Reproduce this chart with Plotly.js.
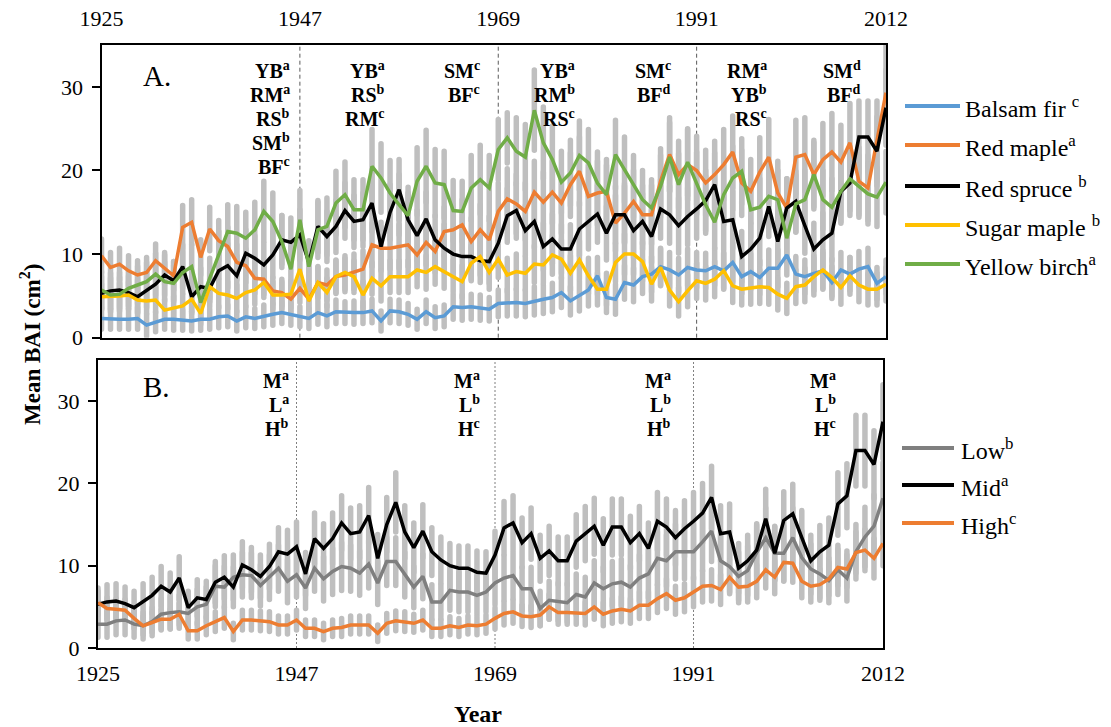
<!DOCTYPE html>
<html><head><meta charset="utf-8">
<script src="https://cdn.plot.ly/plotly-3.0.1.min.js"></script>
<style>html,body{margin:0;padding:0;background:#fff}#chart{width:1111px;height:727px}</style>
</head><body><div id="chart"></div>
<script>
// ---------------- DATA ----------------
const firstYear = 1925;
const tickYears = [1925, 1947, 1969, 1991, 2012];
const periodBreaks = [1947, 1969, 1991];

const speciesNames = ['Balsam fir', 'Red maple', 'Red spruce', 'Sugar maple', 'Yellow birch'];
const speciesSup = ['c', 'a', 'b', 'b', 'a'];
const elevNames = ['Low', 'Mid', 'High'];
const elevSup = ['b', 'a', 'c'];

const balsamFir = [2.3,2.2,2.2,2.2,2.3,1.5,1.9,2.2,2.2,2.1, 2.0,2.2,2.2,2.5,2.6,2.0,2.5,2.3,2.6,2.8, 3.0,2.8,2.5,2.3,3.0,2.6,3.1,3.0,3.0,3.0, 3.2,2.0,3.2,3.1,2.8,2.2,3.1,2.4,2.6,3.7, 3.6,3.7,3.6,3.4,4.1,4.2,4.2,4.1,4.4,4.6, 4.8,5.4,4.4,5.0,5.7,7.4,4.8,4.6,6.6,6.3, 7.3,7.6,8.5,8.1,7.5,8.4,8.1,8.0,8.5,8.0, 9.0,7.3,7.9,7.2,8.3,8.3,9.9,7.6,7.3,7.7, 8.0,6.6,8.1,7.6,8.2,8.5,6.5,7.3];
const redMaple = [9.8,8.4,8.8,8.0,7.5,7.8,9.2,8.3,7.4,13.2, 13.8,9.6,13.0,11.6,10.9,9.0,8.6,7.1,7.0,5.6, 5.4,4.6,5.9,4.6,6.6,6.3,7.3,7.5,7.9,8.2, 11.1,10.7,10.7,10.9,11.1,9.9,11.4,10.3,12.7,12.9, 13.5,11.5,12.9,11.7,15.1,16.6,16.0,15.1,17.4,16.2, 17.4,16.1,18.3,19.9,16.9,17.3,17.5,13.7,14.9,16.3, 14.7,14.7,18.7,21.9,19.5,20.7,20.0,18.5,19.5,20.7, 22.2,18.5,17.5,19.8,21.6,17.3,15.5,21.6,21.9,19.5, 21.3,22.2,21.0,23.3,18.7,17.9,23.5,29.3];
const redSpruce = [5.3,5.6,5.7,5.4,4.9,5.7,6.4,7.5,6.8,8.5, 4.9,6.1,5.9,8.0,8.6,7.4,10.1,9.5,8.7,9.9, 11.7,11.4,12.3,9.0,13.3,12.1,13.3,15.2,13.9,14.1, 16.1,10.9,15.0,17.7,14.1,12.2,14.2,11.7,10.7,10.0, 9.7,9.7,9.2,9.1,11.3,14.6,15.2,12.8,13.9,10.9, 11.8,10.6,10.6,13.0,13.9,14.8,12.5,14.7,14.7,12.8, 13.9,12.1,15.4,14.7,13.4,14.5,15.4,16.4,18.3,13.9, 14.1,9.7,10.6,11.9,15.7,11.5,15.5,16.3,13.4,10.6, 11.7,12.5,17.5,18.5,24.0,24.0,22.3,27.5];
const sugarMaple = [4.9,4.9,5.0,5.1,4.5,4.4,4.5,3.3,3.6,3.8, 4.6,2.9,6.1,5.3,5.1,4.7,5.4,5.7,6.6,5.1, 5.1,5.2,8.2,4.4,6.6,5.4,7.3,7.8,7.3,5.1, 7.1,6.2,7.3,7.3,7.3,8.1,7.8,8.5,7.9,7.4, 6.7,8.9,9.7,7.8,9.4,7.5,7.9,7.7,8.8,8.7, 9.9,9.4,7.7,9.3,7.4,5.8,5.8,9.0,10.0,10.0, 9.1,6.4,8.4,5.7,4.3,5.6,6.8,6.5,7.0,8.0, 6.2,5.8,6.0,6.1,6.0,5.2,4.7,6.1,6.3,7.3, 8.1,7.2,6.0,7.4,6.3,5.8,5.8,6.4];
const yellowBirch = [5.7,5.1,5.2,5.9,6.3,6.7,7.6,6.7,6.5,7.8, 8.5,4.2,7.1,9.9,12.7,12.5,11.9,12.9,15.1,13.9, 11.5,8.2,14.1,8.5,12.9,13.3,16.1,17.1,15.3,15.3, 20.5,19.1,17.3,15.9,14.6,18.7,20.5,18.5,18.3,15.2, 15.1,17.9,18.9,17.9,22.5,23.9,22.3,21.6,27.2,23.3, 21.3,18.6,19.7,21.8,20.9,18.5,17.1,21.9,20.1,18.1, 16.5,15.5,18.1,21.6,18.3,21.0,18.5,15.9,13.8,17.1, 19.1,19.9,15.3,15.6,16.9,16.5,11.9,16.0,16.5,19.5, 16.5,15.6,17.5,19.0,18.1,17.2,16.8,18.6];

const lowElev = [2.9,2.9,3.3,3.4,2.9,2.7,3.2,4.1,4.3,4.4, 4.2,5.0,5.3,7.5,7.4,8.6,8.9,8.8,7.6,8.6, 9.7,8.1,8.9,7.3,9.7,8.4,9.3,9.9,9.7,9.1, 10.2,7.9,10.5,10.5,8.9,7.4,8.7,5.6,5.6,7.0, 6.8,6.8,6.4,6.8,7.9,8.5,8.8,7.2,7.2,4.8, 5.8,5.6,5.5,6.5,6.2,7.9,7.2,7.8,8.0,7.4, 8.5,9.0,10.9,10.6,11.7,11.7,11.7,12.9,14.2,10.6, 9.9,8.7,9.4,11.6,13.4,11.5,11.5,13.4,11.0,9.6, 9.0,8.2,9.5,8.5,11.7,13.5,14.8,18.2];
const midElev = [5.3,5.6,5.7,5.4,4.9,5.7,6.4,7.5,6.8,8.5, 4.9,6.1,5.9,8.0,8.6,7.4,10.1,9.5,8.7,9.9, 11.7,11.4,12.3,9.0,13.3,12.1,13.3,15.2,13.9,14.1, 16.1,10.9,15.0,17.7,14.1,12.2,14.2,11.7,10.7,10.0, 9.7,9.7,9.2,9.1,11.3,14.6,15.2,12.8,13.9,10.9, 11.8,10.6,10.6,13.0,13.9,14.8,12.5,14.7,14.7,12.8, 13.9,12.1,15.4,14.7,13.4,14.5,15.4,16.4,18.3,13.9, 14.1,9.7,10.6,11.9,15.7,11.5,15.5,16.3,13.4,10.6, 11.7,12.5,17.5,18.5,24.0,24.0,22.3,27.5];
const highElev = [5.5,4.8,4.7,4.6,3.6,2.7,3.1,3.5,3.5,4.1, 2.1,2.1,2.7,3.2,3.7,2.0,3.4,3.4,3.3,3.2, 2.8,2.8,3.4,2.4,2.4,2.0,2.4,2.5,2.8,2.8, 2.8,1.8,3.0,3.3,3.2,3.0,3.4,2.4,2.4,2.7, 2.5,2.8,2.7,2.9,3.6,4.2,4.4,3.9,3.8,4.0, 5.0,4.3,4.3,4.3,4.2,5.0,4.1,4.5,4.7,4.5, 5.2,5.2,6.0,6.6,5.8,6.1,6.8,7.5,7.6,7.1, 8.6,7.4,7.5,8.1,9.5,8.6,10.4,10.3,8.1,7.5, 7.7,8.4,9.8,9.6,11.6,11.9,10.9,12.7];

// error-bar half widths (estimated)
const errBF = [1.3,1.2,1.2,1.2,1.3,1.3,1.2,1.2,1.3,1.2, 1.2,1.3,1.2,1.3,1.3,1.2,1.3,1.2,1.3,1.3, 1.3,1.3,1.2,1.2,1.4,1.3,1.4,1.3,1.4,1.3, 1.4,1.2,1.4,1.4,1.3,1.2,1.4,1.3,1.3,1.5, 1.5,1.5,1.5,1.4,1.6,1.6,1.6,1.6,1.7,1.7, 1.7,1.8,1.7,1.8,1.9,2.2,1.8,1.8,2.0,2.0, 2.0,2.1,2.2,2.1,2.0,2.2,2.1,2.1,2.2,2.1, 2.3,2.0,2.1,2.0,2.2,2.2,2.4,2.1,2.0,2.1, 2.1,1.9,2.1,2.0,2.1,2.2,1.9,2.0];
const errRM = [2.0,1.8,1.9,1.8,1.7,1.8,2.0,1.9,1.7,2.6, 2.7,2.1,2.6,2.4,2.3,2.1,2.0,1.8,1.8,1.6, 1.6,1.5,1.7,1.5,1.9,1.8,2.0,2.0,2.1,2.2, 2.6,2.5,2.5,2.6,2.6,2.4,2.7,2.5,2.9,3.0, 3.0,2.8,3.0,2.8,3.4,3.6,3.5,3.4,3.7,3.6, 3.7,3.6,3.8,4.1,3.7,3.8,3.8,3.3,3.5,3.7, 3.5,3.5,3.9,4.4,4.0,4.2,4.1,3.9,4.0,4.2, 4.3,3.9,3.8,4.1,4.5,3.8,3.5,4.4,4.4,4.1, 4.3,4.6,4.4,4.7,4.0,3.9,4.8,6.0];
const errRS = [2.0,2.1,2.1,2.0,2.0,2.1,2.2,2.4,2.3,2.6, 2.0,2.2,2.2,2.5,2.6,2.4,2.8,2.7,2.6,2.7, 2.9,2.9,3.0,2.6,3.1,3.0,3.1,3.3,3.1,3.2, 3.4,2.9,3.3,3.6,3.2,3.0,3.2,2.9,2.8,2.7, 2.7,2.7,2.6,2.6,2.9,3.2,3.3,3.0,3.1,2.8, 3.0,2.9,2.9,3.2,3.3,3.4,3.2,3.4,3.4,3.2, 3.3,3.1,3.5,3.4,3.3,3.4,3.5,3.6,3.8,3.4, 3.4,3.0,3.1,3.2,3.6,3.2,3.5,3.6,3.3,3.1, 3.2,3.3,3.8,3.9,4.3,4.3,4.1,4.5];
const errSM = [1.5,1.5,1.5,1.6,1.5,1.5,1.5,1.3,1.4,1.4, 1.5,1.3,1.8,1.7,1.6,1.6,1.7,1.7,1.8,1.6, 1.6,1.6,2.0,1.5,1.8,1.7,1.9,2.0,1.9,1.6, 1.9,1.8,1.9,1.9,1.9,2.0,2.0,2.1,2.0,1.9, 1.9,2.1,2.2,2.0,2.2,2.0,2.1,2.0,2.2,2.2, 2.3,2.3,2.1,2.3,2.1,1.9,1.9,2.3,2.4,2.4, 2.3,2.0,2.2,1.9,1.7,1.9,2.1,2.0,2.1,2.2, 2.0,1.9,2.0,2.0,2.0,1.9,1.8,2.0,2.0,2.2, 2.3,2.2,2.0,2.2,2.0,1.9,1.9,2.0];
const errYB = [2.2,2.0,2.0,2.1,2.2,2.3,2.5,2.3,2.2,2.5, 2.6,1.8,2.4,2.8,3.2,3.2,3.1,3.3,3.6,3.4, 3.1,2.6,3.5,2.6,3.3,3.4,3.8,3.9,3.6,3.6, 4.4,4.1,3.9,3.6,3.4,4.0,4.3,4.0,4.0,3.6, 3.6,3.9,4.1,3.9,3.6,3.0,4.0,3.9,4.8,4.3, 4.0,3.7,3.9,4.1,4.0,3.7,3.5,4.1,3.9,3.7, 3.5,3.4,3.7,4.1,3.7,4.0,3.7,3.4,3.1,3.6, 3.8,3.9,3.3,3.4,3.6,3.5,2.9,3.4,3.5,3.8, 3.5,3.4,3.6,3.8,3.7,3.6,3.5,3.7];
const errLow = [1.6,1.6,1.7,1.8,1.6,1.6,1.7,1.9,2.0,2.0, 1.9,2.1,2.1,2.5,2.5,2.7,2.7,2.7,2.5,2.7, 2.8,2.6,2.7,2.5,2.8,2.7,2.8,2.9,2.8,2.7, 2.9,2.6,2.9,2.9,2.7,2.5,2.7,2.1,2.1,2.4, 2.4,2.4,2.3,2.4,2.6,2.7,2.8,2.6,2.6,2.1, 2.3,2.3,2.3,2.5,2.4,2.7,2.6,2.7,2.8,2.6, 2.8,2.9,3.2,3.1,3.3,3.3,3.3,3.5,3.7,3.2, 3.1,2.9,3.0,3.3,3.6,3.3,3.3,3.6,3.2,3.0, 2.9,2.7,3.0,2.8,3.3,3.6,3.8,4.3];
const errMid = [2.0,2.1,2.1,2.0,2.0,2.1,2.2,2.4,2.3,2.6, 2.0,2.2,2.2,2.5,2.6,2.4,2.8,2.7,2.6,2.7, 2.9,2.9,3.0,2.6,3.1,3.0,3.1,3.3,3.1,3.2, 3.4,2.9,3.3,3.6,3.2,3.0,3.2,2.9,2.8,2.7, 2.7,2.7,2.6,2.6,2.9,3.2,3.3,3.0,3.1,2.8, 3.0,2.9,2.9,3.2,3.3,3.4,3.2,3.4,3.4,3.2, 3.3,3.1,3.5,3.4,3.3,3.4,3.5,3.6,3.8,3.4, 3.4,3.0,3.1,3.2,3.6,3.2,3.5,3.6,3.3,3.1, 3.2,3.3,3.8,3.9,4.3,4.3,4.1,4.5];
const errHigh = [1.4,1.3,1.3,1.3,1.2,1.1,1.2,1.2,1.2,1.3, 1.0,1.0,1.1,1.2,1.3,1.0,1.2,1.2,1.2,1.2, 1.1,1.1,1.2,1.0,1.0,1.0,1.0,1.1,1.1,1.1, 1.1,1.0,1.2,1.2,1.2,1.1,1.2,1.0,1.0,1.1, 1.1,1.1,1.1,1.1,1.3,1.4,1.4,1.3,1.3,1.3, 1.5,1.4,1.4,1.4,1.4,1.5,1.4,1.5,1.5,1.5, 1.6,1.6,1.7,1.8,1.7,1.7,1.8,1.9,1.9,1.8, 2.0,1.9,1.9,2.0,2.2,2.0,2.3,2.3,2.0,1.9, 1.9,2.0,2.2,2.2,2.5,2.5,2.4,2.7];

// significance letters per period
const lettersA = [
  [['YB','a'],['RM','a'],['RS','b'],['SM','b'],['BF','c']],
  [['YB','a'],['RS','b'],['RM','c']],
  [['SM','c'],['BF','c']],
  [['YB','a'],['RM','b'],['RS','c']],
  [['SM','c'],['BF','d']],
  [['RM','a'],['YB','b'],['RS','c']],
  [['SM','d'],['BF','d']]
];
const lettersB = [
  [['M','a'],['L','a'],['H','b']],
  [['M','a'],['L','b'],['H','c']],
  [['M','a'],['L','b'],['H','b']],
  [['M','a'],['L','b'],['H','c']]
];

// ---------------- STYLE / LAYOUT ----------------
const W = 1111, H = 727;
const px = v => v / W;
const py = v => 1 - v / H;
const FONT = 'Liberation Serif, Times New Roman, serif';
const years = redSpruce.map((_, i) => firstYear + i);

const speciesData = [balsamFir, redMaple, redSpruce, sugarMaple, yellowBirch];
const speciesErr = [errBF, errRM, errRS, errSM, errYB];
const speciesColors = ['#5B9BD5', '#ED7D31', '#000000', '#FFC000', '#70AD47'];
const elevData = [lowElev, midElev, highElev];
const elevErr = [errLow, errMid, errHigh];
const elevColors = ['#7F7F7F', '#000000', '#ED7D31'];

function errTrace(y, err, xa, ya) {
  return {x: years, y: y, xaxis: xa, yaxis: ya, type: 'scatter', mode: 'markers',
    marker: {size: 2, opacity: 0}, hoverinfo: 'skip', showlegend: false,
    error_y: {type: 'data', array: err, symmetric: true, color: '#BFBFBF', thickness: 5.5, width: 0}};
}
function lineTrace(y, color, name, xa, ya) {
  return {x: years, y: y, xaxis: xa, yaxis: ya, type: 'scatter', mode: 'lines', name: name,
    line: {color: color, width: 3.5}, showlegend: false};
}

const traces = [];
speciesData.forEach((d, i) => traces.push(errTrace(d, speciesErr[i], 'x', 'y')));
elevData.forEach((d, i) => traces.push(errTrace(d, elevErr[i], 'x2', 'y2')));
speciesData.forEach((d, i) => traces.push(lineTrace(d, speciesColors[i], speciesNames[i], 'x', 'y')));
elevData.forEach((d, i) => traces.push(lineTrace(d, elevColors[i], elevNames[i], 'x2', 'y2')));

const shapes = [];
const annotations = [];

periodBreaks.forEach(yr => {
  shapes.push({type: 'line', xref: 'x', yref: 'y domain', x0: yr, x1: yr, y0: 0, y1: 1,
    line: {color: '#595959', width: 1, dash: '4px,3px'}, layer: 'below'});
  shapes.push({type: 'line', xref: 'x2', yref: 'y2 domain', x0: yr, x1: yr, y0: 0, y1: 1,
    line: {color: '#7F7F7F', width: 1, dash: '2px,2px'}, layer: 'below'});
});

// legends (panel A & B)
const legA_y = [106, 145, 186, 225, 264];
speciesNames.forEach((n, i) => {
  shapes.push({type: 'line', xref: 'paper', yref: 'paper', x0: px(905), x1: px(960), y0: py(legA_y[i]), y1: py(legA_y[i]),
    line: {color: speciesColors[i], width: 4}});
  annotations.push({xref: 'paper', yref: 'paper', x: px(963), y: py(legA_y[i] + 1), xanchor: 'left', yanchor: 'middle',
    text: n + (i === 0 || i === 2 || i === 3 ? ' ' : '') + '<sup>' + speciesSup[i] + '</sup>', showarrow: false,
    font: {family: FONT, size: 24, color: '#000'}});
});
const legB_y = [448, 485, 523];
elevNames.forEach((n, i) => {
  shapes.push({type: 'line', xref: 'paper', yref: 'paper', x0: px(902), x1: px(954), y0: py(legB_y[i]), y1: py(legB_y[i]),
    line: {color: elevColors[i], width: 4}});
  annotations.push({xref: 'paper', yref: 'paper', x: px(959), y: py(legB_y[i] + 1), xanchor: 'left', yanchor: 'middle',
    text: n + '<sup>' + elevSup[i] + '</sup>', showarrow: false,
    font: {family: FONT, size: 24, color: '#000'}});
});

// letter blocks
const letterRightA = [292, 387, 482, 577, 673, 769, 863];
const letterTopA = 70, letterStep = 24;
lettersA.forEach((blk, b) => {
  blk.forEach((ln, j) => {
    annotations.push({xref: 'paper', yref: 'paper', x: px(letterRightA[b]), y: py(letterTopA + j * letterStep),
      xanchor: 'right', yanchor: 'middle', showarrow: false,
      text: '<b>' + ln[0] + '<sup>' + ln[1] + '</sup></b>', font: {family: FONT, size: 20, color: '#000'}});
  });
});
const letterRightB = [291, 482, 673, 838];
const letterTopB = 380;
lettersB.forEach((blk, b) => {
  blk.forEach((ln, j) => {
    annotations.push({xref: 'paper', yref: 'paper', x: px(letterRightB[b]), y: py(letterTopB + j * letterStep),
      xanchor: 'right', yanchor: 'middle', showarrow: false,
      text: '<b>' + ln[0] + '<sup>' + ln[1] + '</sup></b>', font: {family: FONT, size: 20, color: '#000'}});
  });
});

// panel labels and titles
annotations.push({xref: 'paper', yref: 'paper', x: px(141), y: py(76), xanchor: 'left', yanchor: 'middle', showarrow: false,
  text: 'A.', font: {family: FONT, size: 29, color: '#000'}});
annotations.push({xref: 'paper', yref: 'paper', x: px(141), y: py(387), xanchor: 'left', yanchor: 'middle', showarrow: false,
  text: 'B.', font: {family: FONT, size: 29, color: '#000'}});
annotations.push({xref: 'paper', yref: 'paper', x: px(30), y: py(345), xanchor: 'center', yanchor: 'middle', showarrow: false,
  textangle: -90, text: '<b>Mean BAI (cm<sup>2</sup>)</b>', font: {family: FONT, size: 23, color: '#000'}});
annotations.push({xref: 'paper', yref: 'paper', x: px(478), y: py(714), xanchor: 'center', yanchor: 'middle', showarrow: false,
  text: '<b>Year</b>', font: {family: FONT, size: 24, color: '#000'}});

const axBase = {showline: true, mirror: true, linecolor: '#000', linewidth: 2, showgrid: false, zeroline: false,
  tickfont: {family: FONT, size: 22, color: '#000'}};
const layout = {
  width: W, height: H, margin: {l: 0, r: 0, t: 0, b: 0}, paper_bgcolor: '#fff', plot_bgcolor: 'rgba(0,0,0,0)',
  showlegend: false, font: {family: FONT, color: '#000'},
  xaxis: Object.assign({}, axBase, {domain: [px(101.5), px(886)], anchor: 'y', range: [1925, 2012], side: 'top',
    tickmode: 'array', tickvals: tickYears, ticks: '', ticklabelstandoff: 8}),
  yaxis: Object.assign({}, axBase, {domain: [py(337.7), py(45)], anchor: 'x', range: [0, 35], tickmode: 'array',
    tickvals: [0, 10, 20, 30], ticks: 'outside', ticklen: 8, tickwidth: 2, tickcolor: '#000', ticklabelstandoff: 4}),
  xaxis2: Object.assign({}, axBase, {domain: [px(98), px(883)], anchor: 'y2', range: [1925, 2012], side: 'bottom',
    tickmode: 'array', tickvals: tickYears, ticks: '', ticklabelstandoff: 5}),
  yaxis2: Object.assign({}, axBase, {domain: [py(648), py(360)], anchor: 'x2', range: [0, 35], tickmode: 'array',
    tickvals: [0, 10, 20, 30], ticks: 'outside', ticklen: 8, tickwidth: 2, tickcolor: '#000', ticklabelstandoff: 4}),
  shapes: shapes, annotations: annotations
};

Plotly.newPlot('chart', traces, layout, {displayModeBar: false, staticPlot: true}).then(() => {
  document.querySelectorAll('.errorbar path').forEach(p => { p.style.strokeLinecap = 'round'; });
});
</script>
</body></html>
